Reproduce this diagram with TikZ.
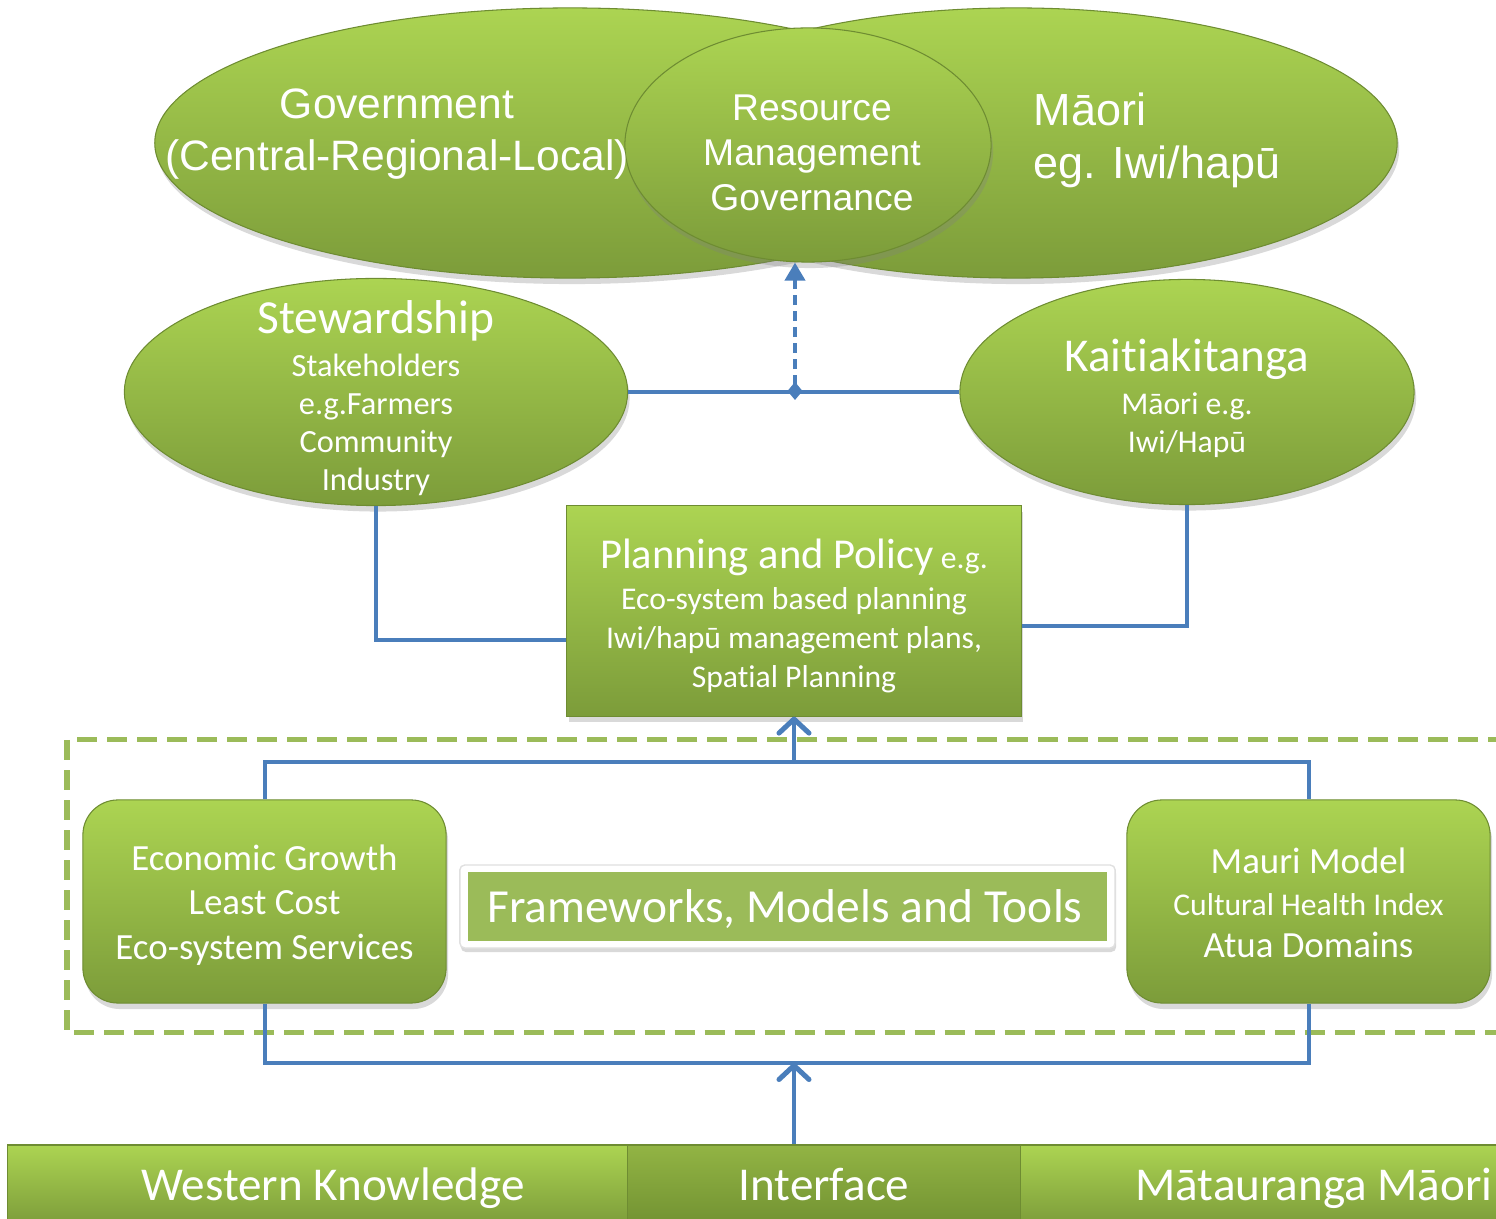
\documentclass[tikz,border=0pt]{standalone}
\usepackage{fontspec}
\setmainfont{Carlito}[Ligatures=NoCommon]
\newfontfamily\arialfont{Liberation Sans}
\usepackage{xcolor}
\usepackage{tikz}
\usetikzlibrary{arrows.meta, shapes.geometric, shadows}

\definecolor{leafTop}{RGB}{172,212,82}
\definecolor{leafBot}{RGB}{124,156,58}
\definecolor{leafEdge}{RGB}{110,140,50}
\definecolor{weaveTop}{RGB}{146,180,68}
\definecolor{weaveBot}{RGB}{114,146,50}
\definecolor{linkBlue}{RGB}{74,126,187}
\definecolor{frameGreen}{RGB}{155,187,89}

\begin{document}
\begin{tikzpicture}[x=0.01cm, y=-0.01cm,
    leaf/.style={top color=leafTop, bottom color=leafBot, draw=leafEdge, line width=0.3pt,
        drop shadow={shadow xshift=0.02cm, shadow yshift=-0.06cm, opacity=0.3}},
    oval/.style={leaf, ellipse, inner sep=0pt},
    panel/.style={leaf, rectangle, inner sep=0pt},
    tag/.style={text=white, align=center, inner sep=0pt},
    link/.style={draw=linkBlue, line width=0.04cm},
  ]
    \useasboundingbox (0,0) rectangle (1496,1219);
    \clip (0,0) rectangle (1496,1219);

    \node[oval, minimum width=8.3cm, minimum height=2.7cm] (gov) at (570,143) {};
    \node[oval, minimum width=7.62cm, minimum height=2.7cm] (maori) at (1016,143) {};
    \node[oval, minimum width=3.66cm, minimum height=2.34cm] (rmg) at (808,145) {};
    \node[tag, font=\arialfont\fontsize{12.1}{14.8}\selectfont] (govtext) at (397,134)
        {Government\\(Central-Regional-Local)};
    \node[tag, font=\arialfont\fontsize{10.6}{12.8}\selectfont] (rmgtext) at (812,153)
        {Resource\\Management\\Governance};
    \node[tag, align=left, anchor=west, font=\arialfont\fontsize{12.8}{15}\selectfont] (maoritext) at (1033,140)
        {Māori\\eg. Iwi/hapū};

    \node[oval, minimum width=5.03cm, minimum height=2.27cm] (stew) at (376,392) {};
    \node[oval, minimum width=4.54cm, minimum height=2.25cm] (kait) at (1187,392) {};
    \node[tag, font=\fontsize{9.2}{10.8}\selectfont] (stewtext) at (376,398)
        {{\fontsize{13.5}{15}\selectfont Stewardship}\\[1.5pt]Stakeholders\\e.g.Farmers\\Community\\Industry};
    \node[tag, font=\fontsize{9}{10.8}\selectfont] (kaittext) at (1187,398)
        {{\fontsize{13.4}{15}\selectfont Kaitiakitanga}\\[1.5pt]Māori e.g.\\Iwi/Hapū};

    \node[panel, minimum width=4.54cm, minimum height=2.1cm] (plan) at (794,611) {};
    \node[tag, font=\fontsize{9}{11}\selectfont] (plantext) at (794,616)
        {{\fontsize{12.1}{14}\selectfont Planning and Policy} e.g.\\[0.7pt]Eco-system based planning\\Iwi/hapū management plans,\\Spatial Planning};

    \coordinate (hubfoot) at (795,400);
    \coordinate (topbus) at (794,762);
    \coordinate (botbus) at (794,1063);

    \draw[link] (stew.east) -- (kait.west);
    \draw[link, dash pattern=on 0.1cm off 0.06cm,
        {Diamond[length=0.18cm, width=0.15cm]}-{Triangle[length=0.18cm, width=0.2cm]}] (hubfoot) -- (hubfoot |- rmg.south);
    \draw[link] (stew.south) |- (plan.west |- 0,640);
    \draw[link] (kait.south) |- (plan.east |- 0,626);

    \draw[frameGreen, line width=0.05cm, dash pattern=on 0.2cm off 0.1cm] (67,740) rectangle (1530,1033);

    \node[panel, rounded corners=0.35cm, minimum width=3.63cm, minimum height=2.03cm] (econ) at (264.5,901.5) {};
    \node[tag, font=\fontsize{10.5}{12.7}\selectfont] (econtext) at (264.5,905)
        {Economic Growth\\Least Cost\\Eco-system Services};
    \node[panel, rounded corners=0.35cm, minimum width=3.63cm, minimum height=2.03cm] (mauri) at (1308.5,901.5) {};
    \node[tag, font=\fontsize{10.5}{12}\selectfont] (mauritext) at (1308.5,903)
        {Mauri Model\\{\fontsize{9}{12}\selectfont Cultural Health Index}\\Atua Domains};

    \node[fill=white, draw=black!12, rounded corners=0.05cm, minimum width=6.55cm, minimum height=0.83cm,
        drop shadow={shadow xshift=0.01cm, shadow yshift=-0.04cm, opacity=0.3}] (fmtbox) at (787.5,906.5) {};
    \node[fill=frameGreen, minimum width=6.39cm, minimum height=0.69cm, inner sep=0pt] (fmt) at (fmtbox.center) {};
    \node[tag, anchor=base, font=\fontsize{13.5}{15}\selectfont] (fmttext) at (785,923) {Frameworks, Models and Tools};

    \draw[link] (econ.north) |- (topbus) -| (mauri.north);
    \draw[link, -{Straight Barb[length=0.14cm, width=0.3cm, line width=0.05cm, round]}] (topbus) -- (plan.south);
    \draw[link] (econ.south) |- (botbus) -| (mauri.south);

    \node[panel, minimum width=6.2cm, minimum height=0.8cm] (west) at (318,1185) {};
    \node[panel, top color=weaveTop, bottom color=weaveBot, minimum width=3.93cm, minimum height=0.8cm] (iface) at (824.5,1185) {};
    \node[panel, minimum width=5.89cm, minimum height=0.8cm] (mata) at (1315.5,1185) {};
    \node[tag, anchor=base, font=\fontsize{13.4}{15}\selectfont] (westtext) at (333,1201) {Western Knowledge};
    \node[tag, anchor=base, font=\fontsize{13.4}{15}\selectfont] (ifacetext) at (824,1201) {Interface};
    \node[tag, anchor=base, font=\fontsize{13.4}{15}\selectfont] (matatext) at (1314,1201) {Mātauranga Māori};

    \draw[link, -{Straight Barb[length=0.14cm, width=0.3cm, line width=0.05cm, round]}] (botbus |- iface.north) -- (botbus);

\end{tikzpicture}
\end{document}
